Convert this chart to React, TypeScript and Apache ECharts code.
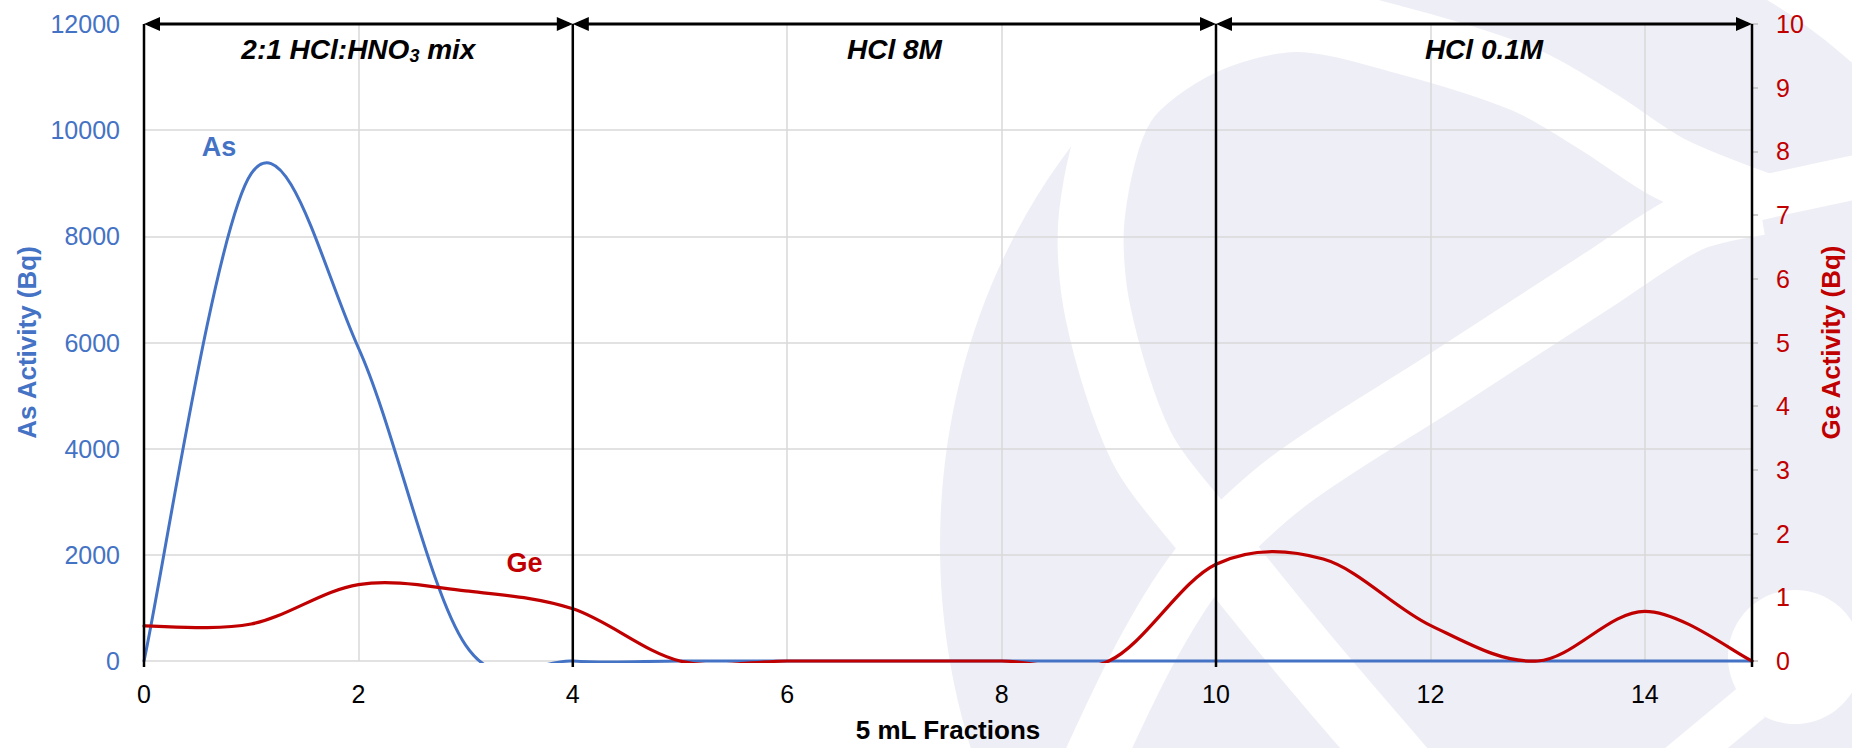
import React, { useEffect, useRef } from 'react';
import * as echarts from 'echarts';

// Elution profile: activity of each 5 mL fraction
const fractions = [0, 1, 2, 3, 4, 5, 6, 7, 8, 9, 10, 11, 12, 13, 14, 15];
const asActivity = [0, 9180, 5900, 300, 0, 0, 0, 0, 0, 0, 0, 0, 0, 0, 0, 0];
const geActivity = [0.55, 0.58, 1.2, 1.1, 0.82, 0, 0, 0, 0, 0, 1.52, 1.6, 0.56, 0, 0.78, 0];

// Axis ranges
const xRange = { min: 0, max: 15, interval: 2 };
const asRange = { min: 0, max: 12000, interval: 2000 };
const geRange = { min: 0, max: 10, interval: 1 };

// Eluent sections along the fraction axis
const sectionBounds = [0, 4, 10, 15];
const sectionTexts = ['{t|2:1 HCl:HNO}{s|3}{t| mix}', '{t|HCl 8M}', '{t|HCl 0.1M}'];

// Series tags, placed in (fraction, As activity) coordinates
const seriesTags = [
  { text: 'As', x: 0.7, y: 9690, color: '#4472C4' },
  { text: 'Ge', x: 3.55, y: 1850, color: '#C00000' },
];

const BLUE = '#4472C4';
const RED = '#C00000';
const GRID = '#D9D9D9';
const FONT = "'Liberation Sans', Arial, Helvetica, sans-serif";

// Background emblem (pixel geometry of the canvas)
const LOGO_TINT = '#EEEEF6';
const logoOuter = { cx: 1500, cy: 545, rx: 560, ry: 620 };
const logoBands: { w: number; pts: number[][] }[] = [
  {
    w: 66,
    pts: [[1760, 205], [1669, 168], [1600, 123], [1525, 80], [1400, 40], [1295, 19], [1199, 44], [1123, 104],
      [1092, 214], [1098, 313], [1141, 446], [1205, 532], [1300, 650], [1420, 790]],
  },
  {
    w: 60,
    pts: [[1760, 205], [1690, 222], [1600, 279], [1443, 381], [1290, 480], [1205, 560], [1147, 650], [1080, 790]],
  },
  { w: 44, pts: [[1680, 218], [1760, 198], [1900, 168]] },
  { w: 40, pts: [[1752, 702], [1670, 770]] },
];
const logoElectron = { cx: 1795, cy: 657, r: 67 };

function emblem(): any[] {
  const items: any[] = [
    { type: 'ellipse', silent: true, z: -5, shape: logoOuter, style: { fill: LOGO_TINT } },
  ];
  logoBands.forEach((b) => {
    items.push({
      type: 'polyline',
      silent: true,
      z: -4,
      shape: { points: b.pts, smooth: 0.3 },
      style: { stroke: '#ffffff', lineWidth: b.w, fill: null, lineCap: 'butt', lineJoin: 'round' },
    });
  });
  items.push({ type: 'circle', silent: true, z: -4, shape: logoElectron, style: { fill: '#ffffff' } });
  return items;
}

// Smoothed line through the data points (Catmull-Rom as cubic Bezier segments),
// clipped to the plot area.
function smoothLine(color: string, width: number) {
  return (params: any, api: any) => {
    if (params.dataIndexInside !== 0) return null;
    const n = params.dataInsideLength;
    const pts: number[][] = [];
    for (let i = 0; i < n; i++) {
      pts.push(api.coord([api.value(0, i), api.value(1, i)]));
    }
    const f = (v: number) => v.toFixed(2);
    let d = `M${f(pts[0][0])},${f(pts[0][1])}`;
    for (let i = 0; i < n - 1; i++) {
      const p0 = pts[Math.max(i - 1, 0)];
      const p1 = pts[i];
      const p2 = pts[i + 1];
      const p3 = pts[Math.min(i + 2, n - 1)];
      const c1x = p1[0] + (p2[0] - p0[0]) / 6;
      const c1y = p1[1] + (p2[1] - p0[1]) / 6;
      const c2x = p2[0] - (p3[0] - p1[0]) / 6;
      const c2y = p2[1] - (p3[1] - p1[1]) / 6;
      d += ` C${f(c1x)},${f(c1y)} ${f(c2x)},${f(c2y)} ${f(p2[0])},${f(p2[1])}`;
    }
    const cs = params.coordSys;
    return {
      type: 'path',
      shape: { pathData: d },
      style: { stroke: color, lineWidth: width, fill: 'none', lineJoin: 'round', lineCap: 'round' },
      clipPath: {
        type: 'rect',
        shape: { x: cs.x - 2, y: cs.y - 2, width: cs.width + 4, height: cs.height + 4 },
      },
    };
  };
}

function annotations(chart: echarts.ECharts): any[] {
  const px = (x: number, y: number) =>
    chart.convertToPixel({ xAxisIndex: 0, yAxisIndex: 0 }, [x, y]) as number[];
  const items: any[] = [];
  const top = px(0, asRange.max)[1];
  const base = px(0, asRange.min)[1];

  // Vertical dividers
  sectionBounds.forEach((b) => {
    const x = px(b, 0)[0];
    items.push({
      type: 'line',
      silent: true,
      z: 10,
      shape: { x1: x, y1: top, x2: x, y2: base + 6 },
      style: { stroke: '#000', lineWidth: 2.5 },
    });
  });

  // Double-headed arrows and section names
  for (let i = 0; i < sectionBounds.length - 1; i++) {
    const xa = px(sectionBounds[i], 0)[0];
    const xb = px(sectionBounds[i + 1], 0)[0];
    const hl = 16;
    const hw = 7;
    items.push({
      type: 'line',
      silent: true,
      z: 11,
      shape: { x1: xa + 4, y1: top, x2: xb - 4, y2: top },
      style: { stroke: '#000', lineWidth: 3 },
    });
    items.push({
      type: 'polygon',
      silent: true,
      z: 12,
      shape: { points: [[xa, top], [xa + hl, top - hw], [xa + hl, top + hw]] },
      style: { fill: '#000' },
    });
    items.push({
      type: 'polygon',
      silent: true,
      z: 12,
      shape: { points: [[xb, top], [xb - hl, top - hw], [xb - hl, top + hw]] },
      style: { fill: '#000' },
    });
    const mid = px((sectionBounds[i] + sectionBounds[i + 1]) / 2, 0)[0];
    items.push({
      type: 'text',
      silent: true,
      z: 12,
      style: {
        text: sectionTexts[i],
        x: mid,
        y: top + 25,
        align: 'center',
        verticalAlign: 'middle',
        textAlign: 'center',
        textVerticalAlign: 'middle',
        rich: {
          t: { fontFamily: FONT, fontSize: 28, fontWeight: 'bold', fontStyle: 'italic', fill: '#000', lineHeight: 32 },
          s: { fontFamily: FONT, fontSize: 18, fontWeight: 'bold', fontStyle: 'italic', fill: '#000', lineHeight: 14, verticalAlign: 'bottom' },
        },
      },
    });
  }

  // Series tags
  seriesTags.forEach((t) => {
    const p = px(t.x, t.y);
    items.push({
      type: 'text',
      silent: true,
      z: 12,
      style: {
        text: t.text,
        x: p[0],
        y: p[1],
        align: 'center',
        verticalAlign: 'middle',
        textAlign: 'center',
        textVerticalAlign: 'middle',
        fill: t.color,
        fontFamily: FONT,
        fontSize: 27,
        fontWeight: 'bold',
      },
    });
  });
  return items;
}

export default function App() {
  const ref = useRef<HTMLDivElement>(null);

  useEffect(() => {
    const el = ref.current;
    if (!el) return;
    const chart = echarts.init(el, null, { renderer: 'svg' });
    const plain = (v: number) => String(v);

    const option: any = {
      animation: false,
      backgroundColor: '#ffffff',
      grid: { left: 144, right: 95, top: 24, bottom: 80, containLabel: false },
      xAxis: {
        type: 'value',
        min: xRange.min,
        max: xRange.max,
        interval: xRange.interval,
        name: '5 mL Fractions',
        nameLocation: 'middle',
        nameGap: 56,
        nameTextStyle: { fontFamily: FONT, fontSize: 26, fontWeight: 'bold', color: '#000' },
        axisLine: { show: false },
        axisTick: { show: false },
        axisLabel: { fontFamily: FONT, fontSize: 25, color: '#000', margin: 20, showMaxLabel: false, formatter: plain },
        splitLine: { show: true, lineStyle: { color: GRID, width: 1.5 } },
      },
      yAxis: [
        {
          type: 'value',
          min: asRange.min,
          max: asRange.max,
          interval: asRange.interval,
          name: 'As Activity (Bq)',
          nameLocation: 'middle',
          nameRotate: 90,
          nameGap: 101,
          nameTextStyle: { fontFamily: FONT, fontSize: 26, fontWeight: 'bold', color: BLUE },
          axisLine: { show: false },
          axisTick: { show: false },
          axisLabel: { fontFamily: FONT, fontSize: 25, color: BLUE, margin: 24, formatter: plain },
          splitLine: { show: true, lineStyle: { color: GRID, width: 1.5 } },
        },
        {
          type: 'value',
          position: 'right',
          min: geRange.min,
          max: geRange.max,
          interval: geRange.interval,
          name: 'Ge Activity (Bq)',
          nameLocation: 'middle',
          nameRotate: 90,
          nameGap: 66,
          nameTextStyle: { fontFamily: FONT, fontSize: 26, fontWeight: 'bold', color: RED },
          axisLine: { show: false },
          axisTick: { show: true, length: 6, lineStyle: { color: '#BFBFBF', width: 1.5 } },
          axisLabel: { fontFamily: FONT, fontSize: 25, color: RED, margin: 24, formatter: plain },
          splitLine: { show: false },
        },
      ],
      series: [
        {
          name: 'As',
          type: 'custom',
          coordinateSystem: 'cartesian2d',
          xAxisIndex: 0,
          yAxisIndex: 0,
          encode: { x: 0, y: 1 },
          renderItem: smoothLine(BLUE, 3),
          data: fractions.map((f, i) => [f, asActivity[i]]),
          z: 3,
        },
        {
          name: 'Ge',
          type: 'custom',
          coordinateSystem: 'cartesian2d',
          xAxisIndex: 0,
          yAxisIndex: 1,
          encode: { x: 0, y: 1 },
          renderItem: smoothLine(RED, 3.2),
          data: fractions.map((f, i) => [f, geActivity[i]]),
          z: 4,
        },
      ],
    };

    chart.setOption(option);
    chart.setOption({ graphic: { elements: [...emblem(), ...annotations(chart)] } });

    return () => {
      chart.dispose();
    };
  }, []);

  return (
    <div
      ref={ref}
      style={{ position: 'fixed', left: 0, top: 0, width: 1852, height: 748, background: '#ffffff' }}
    />
  );
}
